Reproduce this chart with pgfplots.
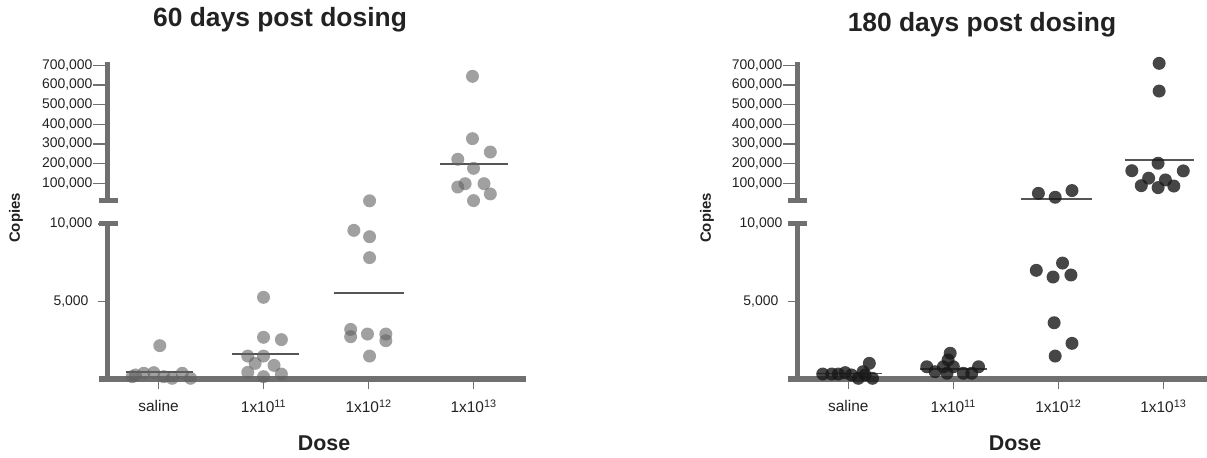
\documentclass[border=0pt]{standalone}
\usepackage{fontspec}
\setmainfont{Liberation Sans}
\usepackage{pgfplots}
\pgfplotsset{compat=1.18}

\definecolor{axisgray}{RGB}{112,112,112}
\definecolor{meangray}{RGB}{85,85,85}
\definecolor{ptlight}{RGB}{97,97,97}
\definecolor{ptdark}{RGB}{24,24,24}
\definecolor{txt}{RGB}{34,34,34}

\pgfplotsset{
  prism/.style={
    scale only axis, width=418bp, clip=false,
    xmin=-0.486, xmax=3.495,
    axis line style={draw=none},
    scaled y ticks=false,
    tick align=outside, xtick pos=bottom, ytick pos=left,
    tick style={axisgray, line width=1.2bp},
    ticklabel style={font=\fontsize{14}{15}\selectfont, text=txt},
  },
  lower/.style={prism, height=155bp, ymin=0, ymax=10000,
    major tick length=9.5bp,
    xtick={0,1,2,3},
    xticklabels={saline, 1x10\textsuperscript{11}, 1x10\textsuperscript{12}, 1x10\textsuperscript{13}},
    xticklabel style={font=\fontsize{15.5}{16}\selectfont, yshift=-8bp},
    ytick={5000}, yticklabels={5{,}000},
    yticklabel style={xshift=-6bp},
    extra y ticks={10000}, extra y tick labels={10{,}000},
    extra y tick style={yticklabel style={xshift=4bp}},
  },
  upper/.style={prism, height=135.7bp, ymin=10000, ymax=700000,
    major tick length=14.5bp,
    xtick=\empty,
    ytick={100000,200000,300000,400000,500000,600000,700000},
    yticklabels={100{,}000, 200{,}000, 300{,}000, 400{,}000, 500{,}000, 600{,}000, 700{,}000},
    yticklabel style={xshift=3bp},
  },
  pts60/.style={only marks, mark=*, mark size=6.5bp, color=ptlight, draw opacity=0,
    mark options={draw=none, draw opacity=0, line width=0pt, fill=ptlight, fill opacity=0.6}},
  pts180/.style={only marks, mark=*, mark size=6.5bp, color=ptdark, draw opacity=0,
    mark options={draw=none, draw opacity=0, line width=0pt, fill=ptdark, fill opacity=0.8}},
  mean/.style={no marks, meangray, line width=1.8bp},
}

\begin{document}
\begin{tikzpicture}
\useasboundingbox (0,0) rectangle (1207bp,458bp);

% ---------- 60 days, lower part ----------
\begin{axis}[lower, at={(107.5bp,79bp)}, anchor=south west]
  \draw[axisgray, line width=5bp] (axis cs:-0.571,0) -- (axis cs:3.495,0);
  \draw[axisgray, line width=5.5bp] (axis cs:-0.486,0) -- (axis cs:-0.486,10000);
  \draw[axisgray, line width=5bp] (axis cs:-0.571,10000) -- (axis cs:-0.39,10000);
  \addplot[pts60] coordinates {(-0.25,150) (-0.22,260) (-0.14,370) (-0.045,410) (0.012,2150)
    (0.05,150) (0.13,45) (0.226,370) (0.305,45)};
  \addplot[pts60] coordinates {(1.0,5270) (1.0,2690) (1.17,2540) (0.85,1480) (1.0,1480)
    (0.92,1010) (1.10,880) (0.85,430) (1.17,320) (1.0,150)};
  \addplot[pts60] coordinates {(1.86,9590) (2.01,9180) (2.01,7830) (1.83,3200) (1.83,2730)
    (1.99,2900) (2.165,2900) (2.165,2470) (2.01,1480)};
  \addplot[mean] coordinates {(-0.31,440) (0.33,440)};
  \addplot[mean] coordinates {(0.70,1590) (1.34,1590)};
  \addplot[mean] coordinates {(1.67,5570) (2.34,5570)};
\end{axis}

% ---------- 60 days, upper part ----------
\begin{axis}[upper, at={(107.5bp,257bp)}, anchor=south west]
  \draw[axisgray, line width=5.5bp] (axis cs:-0.486,10000) -- (axis cs:-0.486,715000);
  \draw[axisgray, line width=5bp] (axis cs:-0.571,10000) -- (axis cs:-0.39,10000);
  \addplot[pts60] coordinates {(2.01,11000)};
  \addplot[pts60] coordinates {(2.99,644000) (2.99,327000) (3.16,259000) (2.85,222000)
    (3.0,176000) (2.92,98000) (2.85,81000) (3.10,98000) (3.16,46000) (3.0,12000)};
  \addplot[mean] coordinates {(2.68,200000) (3.33,200000)};
\end{axis}

% ---------- 180 days, lower part ----------
\begin{axis}[lower, at={(797.3bp,79bp)}, anchor=south west]
  \draw[axisgray, line width=5bp] (axis cs:-0.571,0) -- (axis cs:3.42,0);
  \draw[axisgray, line width=5.5bp] (axis cs:-0.486,0) -- (axis cs:-0.486,10000);
  \draw[axisgray, line width=5bp] (axis cs:-0.571,10000) -- (axis cs:-0.39,10000);
  \addplot[pts180] coordinates {(-0.244,320) (-0.158,320) (-0.095,320) (-0.03,410) (0.03,260)
    (0.095,45) (0.16,260) (0.2,1010) (0.23,45) (0.14,470)};
  \addplot[pts180] coordinates {(0.747,790) (0.97,1660) (0.95,1230) (0.905,790) (1.0,790)
    (0.826,470) (0.94,370) (1.095,370) (1.24,790) (1.175,370)};
  \addplot[pts180] coordinates {(1.79,7010) (2.04,7480) (1.95,6580) (2.12,6710) (1.96,3630)
    (2.13,2300) (1.97,1480)};
  \addplot[mean] coordinates {(-0.30,350) (0.32,350)};
  \addplot[mean] coordinates {(0.68,630) (1.32,630)};
\end{axis}

% ---------- 180 days, upper part ----------
\begin{axis}[upper, at={(797.3bp,257bp)}, anchor=south west]
  \draw[axisgray, line width=5.5bp] (axis cs:-0.486,10000) -- (axis cs:-0.486,715000);
  \draw[axisgray, line width=5bp] (axis cs:-0.571,10000) -- (axis cs:-0.39,10000);
  \addplot[pts180] coordinates {(1.81,49000) (1.97,29000) (2.13,63000)};
  \addplot[pts180] coordinates {(2.96,710000) (2.96,569000) (2.95,202000) (2.70,164000)
    (3.19,163000) (2.86,126000) (3.02,117000) (2.79,88000) (2.95,78000) (3.10,86000)};
  \addplot[mean] coordinates {(1.645,20000) (2.32,20000)};
  \addplot[mean] coordinates {(2.635,220000) (3.29,220000)};
\end{axis}

% titles and axis names
\node[anchor=base, text=txt, font=\bfseries\fontsize{26.5}{28}\selectfont] at (280bp,431bp) {60 days post dosing};
\node[anchor=base, text=txt, font=\bfseries\fontsize{26.5}{28}\selectfont] at (982bp,426bp) {180 days post dosing};
\node[anchor=base, text=txt, font=\bfseries\fontsize{21.5}{23}\selectfont] at (324bp,8bp) {Dose};
\node[anchor=base, text=txt, font=\bfseries\fontsize{21.5}{23}\selectfont] at (1015bp,8bp) {Dose};
\node[rotate=90, text=txt, font=\bfseries\fontsize{15}{17}\selectfont] at (16bp,240bp) {Copies};
\node[rotate=90, text=txt, font=\bfseries\fontsize{15}{17}\selectfont] at (707bp,240bp) {Copies};
\end{tikzpicture}
\end{document}
